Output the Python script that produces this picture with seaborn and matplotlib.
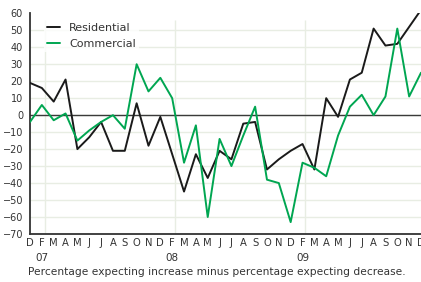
import matplotlib
matplotlib.use('Agg')
import pandas as pd
import matplotlib.pyplot as plt
import matplotlib.transforms as mtransforms
import seaborn as sns

# month letters as printed under the axis (no January in the survey)
months = list('DFMAMJJASON') * 3 + ['D']
years = ['07', '08', '09']
year_idx = [1, 12, 23]

residential = [19, 16, 8, 21, -20, -13, -4, -21, -21, 7, -18, -1,
               -23, -45, -23, -37, -21, -26, -5, -4, -32, -26, -21,
               -17, -32, 10, -1, 21, 25, 51, 41, 42, 52, 62]
commercial = [-4, 6, -3, 1, -15, -9, -4, 0, -8, 30, 14, 22,
              10, -28, -6, -60, -14, -30, -12, 5, -38, -40, -63,
              -28, -31, -36, -12, 5, 12, 0, 11, 51, 11, 25]

sns.set_theme(style='white')
plt.rcParams['font.family'] = ['DejaVu Sans']
text_col = '#333333'

df = pd.DataFrame({
    'idx': list(range(len(months))) * 2,
    'value': residential + commercial,
    'series': ['Residential'] * len(months) + ['Commercial'] * len(months),
})

W, H = 421, 282
fig = plt.figure(figsize=(W / 100, H / 100), dpi=100)
ax = fig.add_axes([30 / W, 1 - 234 / H, 1 - 30 / W, (234 - 13.3) / H])

for v in range(-60, 51, 10):
    ax.axhline(v, color='#e8ede3', lw=1, zorder=0)
ax.vlines([i + 0.25 for i in year_idx], -70, 56, color='#e8ede3', lw=1, zorder=0)
ax.axhline(0, color='#3a3a3a', lw=1, zorder=1)

sns.lineplot(data=df, x='idx', y='value', hue='series',
             palette={'Residential': '#1a1a1a', 'Commercial': '#00a651'},
             lw=1.4, ax=ax, zorder=3)

ax.set_xlim(0, len(months) - 1)
ax.set_ylim(-70, 60)
ax.set_yticks(range(-70, 61, 10))
ax.set_xticks(range(len(months)))
ax.set_xticklabels(months)
ax.set_xlabel('')
ax.set_ylabel('')
ax.tick_params(axis='y', length=0, pad=5, labelsize=7, labelcolor=text_col)
ax.tick_params(axis='x', length=0, pad=3, labelsize=7.2, labelcolor=text_col)
for s in ['top', 'right']:
    ax.spines[s].set_visible(False)
for s in ['left', 'bottom']:
    ax.spines[s].set_color('#333333')
    ax.spines[s].set_linewidth(1.3)

trans = mtransforms.blended_transform_factory(ax.transData, fig.transFigure)
for lab, i in zip(years, year_idx):
    ax.text(i, 1 - 258 / H, lab, transform=trans, ha='center', va='center',
            fontsize=7.5, color=text_col)

fig.text(28 / W, 1 - 272 / H,
         'Percentage expecting increase minus percentage expecting decrease.',
         ha='left', va='center', fontsize=7.65, color=text_col)

leg = ax.legend(loc='upper left', bbox_to_anchor=(38 / W, 1 - 14 / H),
                bbox_transform=fig.transFigure, fontsize=8, handlelength=1.2,
                handletextpad=0.8, labelspacing=0.55, frameon=True,
                fancybox=False, borderpad=0.3)
leg.get_frame().set_facecolor('white')
leg.get_frame().set_edgecolor('none')
for t in leg.get_texts():
    t.set_color(text_col)

fig.savefig('out.png', dpi=100)
